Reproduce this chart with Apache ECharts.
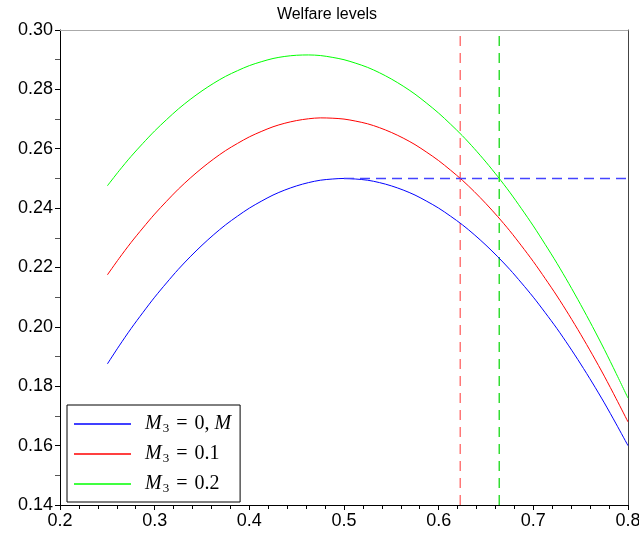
<!DOCTYPE html>
<html>
<head>
<meta charset="utf-8">
<script src="https://cdn.jsdelivr.net/npm/echarts@6/dist/echarts.min.js"></script>
<style>html,body{margin:0;padding:0;background:#fff}#c{width:639px;height:539px}</style>
</head>
<body>
<div id="c"></div>
<script>
var xs = [0.25,0.2625,0.275,0.2875,0.30,0.3125,0.325,0.3375,0.35,0.3625,0.375,0.3875,0.40,0.4125,0.425,0.4375,0.45,0.4625,0.475,0.4875,0.50,0.5125,0.525,0.5375,0.55,0.5625,0.575,0.5875,0.60,0.6125,0.625,0.6375,0.65,0.6625,0.675,0.6875,0.70,0.7125,0.725,0.7375,0.75,0.7625,0.775,0.7875,0.80];
var blueY = [0.1875,0.1936,0.1994,0.2048,0.2100,0.2148,0.2194,0.2236,0.2275,0.2311,0.2344,0.2373,0.2400,0.2423,0.2444,0.2461,0.2475,0.2486,0.2494,0.2498,0.2500,0.2498,0.2494,0.2486,0.2475,0.2461,0.2444,0.2423,0.2400,0.2373,0.2344,0.2311,0.2275,0.2236,0.2194,0.2148,0.2100,0.2048,0.1994,0.1936,0.1875,0.1811,0.1744,0.1673,0.1600];
var redY = [0.2175,0.2231,0.2284,0.2333,0.2380,0.2423,0.2464,0.2501,0.2535,0.2566,0.2594,0.2618,0.2640,0.2658,0.2674,0.2686,0.2695,0.2701,0.2704,0.2703,0.2700,0.2693,0.2684,0.2671,0.2655,0.2636,0.2614,0.2588,0.2560,0.2528,0.2494,0.2456,0.2415,0.2371,0.2324,0.2273,0.2220,0.2163,0.2104,0.2041,0.1975,0.1906,0.1834,0.1758,0.1680];
var greenY = [0.2475,0.2526,0.2574,0.2618,0.2660,0.2698,0.2734,0.2766,0.2795,0.2821,0.2844,0.2863,0.2880,0.2893,0.2904,0.2911,0.2915,0.2916,0.2914,0.2908,0.2900,0.2888,0.2874,0.2856,0.2835,0.2811,0.2784,0.2753,0.2720,0.2683,0.2644,0.2601,0.2555,0.2506,0.2454,0.2398,0.2340,0.2278,0.2214,0.2146,0.2075,0.2001,0.1924,0.1843,0.1760];
var redCrossX = 0.6228;
var greenCrossX = 0.664;
var peakY = 0.25;
var peakX = 0.5;
var names = ['M3 = 0, M', 'M3 = 0.1', 'M3 = 0.2'];
var xTicks = [0.2,0.3,0.4,0.5,0.6,0.7,0.8];
var yTicks = [0.14,0.16,0.18,0.20,0.22,0.24,0.26,0.28,0.30];

function pairs(x, y){ return x.map(function(v,i){ return [v, y[i]]; }); }

var chart = echarts.init(document.getElementById('c'));
var labelFont = {color:'#000', fontSize:18, fontFamily:'Liberation Sans, Arial, sans-serif'};
var serif = 'Liberation Serif, DejaVu Serif, serif';
chart.setOption({
  animation:false,
  title:{text:'Welfare levels', left:322, top:2, textAlign:'center',
    textStyle:{fontSize:16, fontWeight:'normal', color:'#000', fontFamily:'Liberation Sans, Arial, sans-serif'}},
  grid:{left:60, right:11, top:30, bottom:34, containLabel:false, outerBoundsMode:'none'},
  legend:{
    orient:'vertical', left:67, top:405,
    backgroundColor:'#fff', borderColor:'#000', borderWidth:1, borderRadius:0,
    padding:[8,9,7,7], itemGap:8,
    itemWidth:57, itemHeight:1.5, icon:'rect',
    data:names,
    formatter:function(n){
      if(n===names[0]) return '{i|M}{s|3}{e| = }{n|0, }{i|M}';
      if(n===names[1]) return '{i|M}{s|3}{e| = }{n|0.1}';
      return '{i|M}{s|3}{e| = }{n|0.2}';
    },
    textStyle:{
      padding:[0,0,0,9],
      rich:{
        i:{fontSize:20, fontStyle:'italic', fontFamily:serif, color:'#000', lineHeight:21},
        s:{fontSize:13, fontFamily:serif, color:'#000', padding:[9,0,0,1], lineHeight:13},
        e:{fontSize:20, fontFamily:serif, color:'#000', lineHeight:21, padding:[0,2,0,2]},
        n:{fontSize:20, fontFamily:serif, color:'#000', lineHeight:21}
      }
    }
  },
  xAxis:[{
    type:'value', min:0.2, max:0.8, interval:0.1, position:'bottom',
    axisLine:{show:true, onZero:false, lineStyle:{color:'#000', width:1}},
    axisTick:{show:true, length:5, lineStyle:{color:'#000'}},
    minorTick:{show:true, splitNumber:5, length:4, lineStyle:{color:'#000'}},
    splitLine:{show:false},
    axisLabel:Object.assign({margin:7, formatter:function(v){ var t=xTicks.filter(function(k){return Math.abs(k-v)<1e-9;}); return t.length? t[0].toFixed(1):''; }}, labelFont)
  },{
    type:'value', min:0.2, max:0.8, position:'top',
    axisLine:{show:true, onZero:false, lineStyle:{color:'#aaa', width:1}},
    axisTick:{show:false}, axisLabel:{show:false}, splitLine:{show:false}
  }],
  yAxis:[{
    type:'value', min:0.14, max:0.30, interval:0.02, position:'left',
    axisLine:{show:true, onZero:false, lineStyle:{color:'#000', width:1}},
    axisTick:{show:true, length:5, lineStyle:{color:'#000'}},
    minorTick:{show:true, splitNumber:2, length:5, lineStyle:{color:'#555'}},
    splitLine:{show:false},
    axisLabel:Object.assign({margin:7, formatter:function(v){ var t=yTicks.filter(function(k){return Math.abs(k-v)<1e-9;}); return t.length? t[0].toFixed(2):''; }}, labelFont)
  },{
    type:'value', min:0.14, max:0.30, position:'right',
    axisLine:{show:true, onZero:false, lineStyle:{color:'#444', width:1}},
    axisTick:{show:false}, axisLabel:{show:false}, splitLine:{show:false}
  }],
  series:[
    {name:names[0], type:'line', smooth:0.3, showSymbol:false, data:pairs(xs, blueY), lineStyle:{color:'#0000ff', width:1}, itemStyle:{color:'#0000ff'}, z:3},
    {name:names[1], type:'line', smooth:0.3, showSymbol:false, data:pairs(xs, redY), lineStyle:{color:'#ff0000', width:1}, itemStyle:{color:'#ff0000'}, z:3},
    {name:names[2], type:'line', smooth:0.3, showSymbol:false, data:pairs(xs, greenY), lineStyle:{color:'#00ff00', width:1}, itemStyle:{color:'#00ff00'}, z:3},
    {type:'line', showSymbol:false, silent:true, data:[[redCrossX,0.14],[redCrossX,0.30]], lineStyle:{color:'#ff7777', width:1.5, type:[10,7]}, z:2},
    {type:'line', showSymbol:false, silent:true, data:[[greenCrossX,0.14],[greenCrossX,0.30]], lineStyle:{color:'#33dd33', width:1.5, type:[10,7]}, z:2},
    {type:'line', showSymbol:false, silent:true, data:[[peakX,peakY],[0.8,peakY]], lineStyle:{color:'#4444ff', width:1.5, type:[10,6]}, z:4}
  ]
});
</script>
</body>
</html>
